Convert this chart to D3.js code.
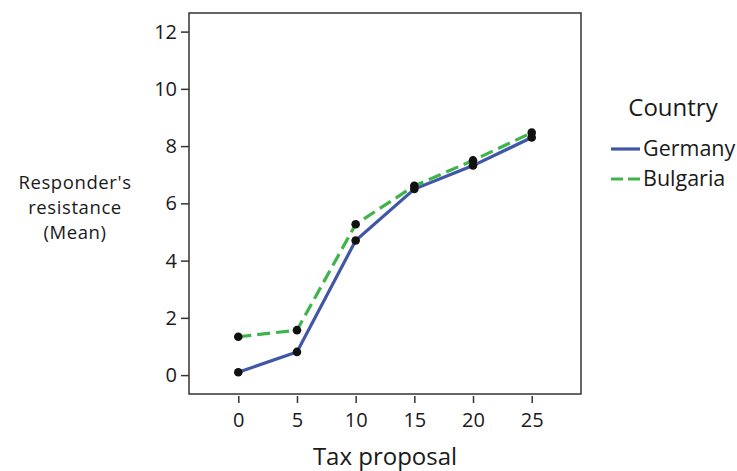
<!DOCTYPE html>
<html><head><meta charset="utf-8">
<script src="https://cdn.jsdelivr.net/npm/d3@7"></script>
<style>body{margin:0;background:#fff}svg{display:block}text{font-family:"Open Sans",sans-serif;fill:#1a1a1a}</style>
</head><body>
<svg id="c" width="737" height="471"></svg>
<script>
const taxProposals = [0, 5, 10, 15, 20, 25];
const germany = [0.10, 0.81, 4.70, 6.50, 7.32, 8.30];
const bulgaria = [1.34, 1.57, 5.27, 6.61, 7.50, 8.47];
const yTicks = [0, 2, 4, 6, 8, 10, 12];
const seriesNames = ["Germany", "Bulgaria"];
const seriesColors = ["#4057a8", "#3db54a"];

const svg = d3.select("#c");
const L = 189, R = 581, T = 13, B = 394;
const x = d3.scaleLinear().domain([-4.2, 29.2]).range([L, R]);
const y = d3.scaleLinear().domain([-0.66, 12.65]).range([B, T]);

// frame
svg.append("rect").attr("x", L).attr("y", T).attr("width", R - L).attr("height", B - T)
  .attr("fill", "none").attr("stroke", "#333").attr("stroke-width", 1.5);

// y axis
const ya = svg.append("g").attr("transform", `translate(${L},0)`)
  .call(d3.axisLeft(y).tickValues(yTicks).tickSize(8).tickPadding(4));
ya.select(".domain").remove();
ya.selectAll("line").attr("stroke", "#333").attr("stroke-width", 1.5);
ya.selectAll("text").style("font-size", "20px").attr("fill", "#1a1a1a").attr("font-family", "Open Sans");

// x axis
const xa = svg.append("g").attr("transform", `translate(0,${B + 2})`)
  .call(d3.axisBottom(x).tickValues(taxProposals).tickSize(7).tickPadding(8));
xa.select(".domain").remove();
xa.selectAll("line").attr("stroke", "#333").attr("stroke-width", 1.5);
xa.selectAll("text").style("font-size", "20px").attr("fill", "#1a1a1a").attr("font-family", "Open Sans")
  .attr("dy", null).attr("y", 427 - (B + 2));

// axis titles
svg.append("text").attr("x", (L + R) / 2).attr("y", 465).attr("text-anchor", "middle")
  .style("font-size", "24px").text("Tax proposal");
["Responder's", "resistance", "(Mean)"].forEach((s, i) =>
  svg.append("text").attr("text-anchor", "middle").style("font-size", "18.5px")
    .style("letter-spacing", "0.6px")
    .attr("x", 75).attr("y", 189 + i * 25).text(s));

// lines
const data = [germany, bulgaria];
const line = d3.line().x((d, i) => x(taxProposals[i])).y(d => y(d));
data.forEach((vals, k) => {
  svg.append("path").datum(vals).attr("d", line).attr("fill", "none")
    .attr("stroke", seriesColors[k]).attr("stroke-width", 3.2)
    .attr("stroke-dasharray", k === 1 ? "13,6" : null);
});
data.forEach(vals => {
  svg.selectAll(null).data(vals).enter().append("circle")
    .attr("cx", (d, i) => x(taxProposals[i])).attr("cy", d => y(d)).attr("r", 4.3)
    .attr("fill", "#111");
});

// legend
svg.append("text").attr("x", 673).attr("y", 116).attr("text-anchor", "middle")
  .style("font-size", "24px").text("Country");
seriesNames.forEach((n, k) => {
  const yy = 149 + k * 30;
  svg.append("line").attr("x1", 611).attr("x2", 640).attr("y1", yy).attr("y2", yy)
    .attr("stroke", seriesColors[k]).attr("stroke-width", 3.2)
    .attr("stroke-dasharray", k === 1 ? "12,5" : null);
  svg.append("text").attr("x", 643).attr("y", yy + 7).style("font-size", "21.5px").text(n);
});
</script>
</body></html>
